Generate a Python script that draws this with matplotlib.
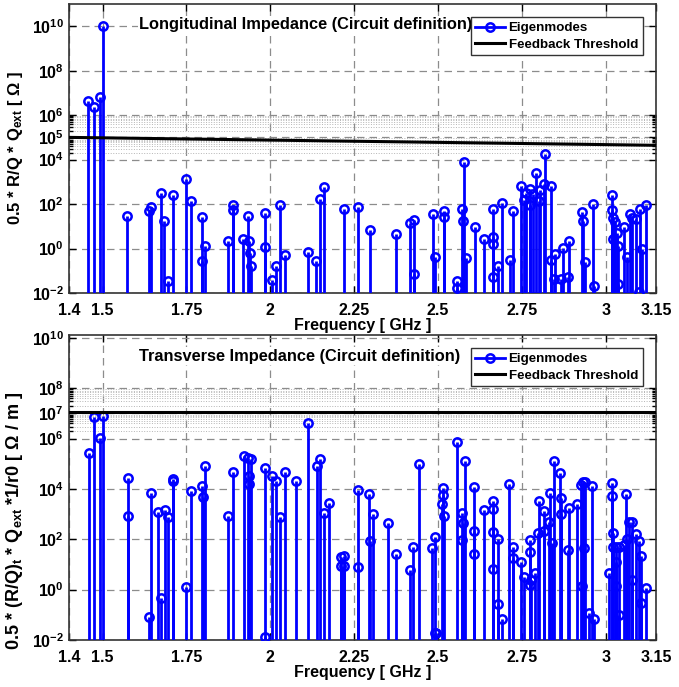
import matplotlib
matplotlib.use('Agg')
import matplotlib.pyplot as plt
from matplotlib.ticker import FixedLocator, NullFormatter
from matplotlib.lines import Line2D

plt.rcParams.update({
    'font.family': 'Liberation Sans',
    'font.weight': 'bold',
    'axes.labelweight': 'bold',
    'font.size': 10,
    'mathtext.fontset': 'custom',
    'mathtext.rm': 'Liberation Sans:bold',
    'mathtext.bf': 'Liberation Sans:bold',
    'mathtext.it': 'Liberation Sans:bold',
    'mathtext.default': 'rm',
})

# ---- longitudinal eigenmodes: frequency [GHz], 0.5*R/Q*Qext [Ohm]
long_freq = [1.457, 1.475, 1.491, 1.500, 1.572, 1.639, 1.645, 1.673, 1.684, 1.694,
             1.709, 1.748, 1.765, 1.797, 1.798, 1.806, 1.873, 1.890, 1.890, 1.919,
             1.934, 1.937, 1.940, 1.944, 1.984, 1.984, 2.004, 2.017, 2.030, 2.044,
             2.113, 2.137, 2.148, 2.159, 2.221, 2.262, 2.297, 2.376, 2.417, 2.428,
             2.428, 2.485, 2.492, 2.517, 2.517, 2.557, 2.558, 2.572, 2.574, 2.579,
             2.583, 2.609, 2.638, 2.663, 2.663, 2.663, 2.663, 2.678, 2.692, 2.715,
             2.725, 2.748, 2.758, 2.763, 2.775, 2.775, 2.783, 2.793, 2.800, 2.805,
             2.817, 2.820, 2.837, 2.837, 2.845, 2.849, 2.867, 2.872, 2.887, 2.892,
             2.929, 2.932, 2.937, 2.961, 2.964, 3.019, 3.019, 3.022, 3.022, 3.028,
             3.034, 3.038, 3.038, 3.056, 3.064, 3.074, 3.079, 3.091, 3.098, 3.101,
             3.108, 3.121]
long_imp = [4.4e6, 2.3e6, 6.6e6, 1.0e10, 28, 51, 72, 310, 17, 0.035,
            260, 1300, 140, 0.28, 26, 1.35, 2.1, 87, 56, 2.7,
            30, 2.1, 0.63, 0.16, 40, 1.2, 0.037, 0.17, 87, 0.49,
            0.72, 0.28, 166, 575, 63, 71, 6.5, 4.3, 14, 19.5,
            0.07, 35, 0.42, 47, 25, 0.033, 0.016, 62, 18, 7800,
            0.37, 9.8, 2.75, 59, 3.3, 1.6, 0.05, 0.16, 107, 0.30,
            47, 620, 155, 310, 490, 95, 280, 2450, 132, 410,
            810, 18600, 660, 0.32, 0.043, 0.54, 0.043, 1.05, 0.052, 2.1,
            44, 17, 0.26, 100, 0.021, 260, 56, 23, 2.7, 15,
            5.0, 1.26, 0.025, 9.8, 0.42, 35, 23, 22, 0.011, 60,
            0.95, 93]
long_thr_freq = [1.4, 3.15]
long_thr = [1.0e5, 4.4e4]

# ---- transverse eigenmodes: frequency [GHz], 0.5*(R/Q)t*Qext/r0 [Ohm/m]
trans_freq = [1.460, 1.476, 1.493, 1.502, 1.575, 1.575, 1.640, 1.645, 1.665, 1.673,
              1.686, 1.696, 1.710, 1.710, 1.749, 1.765, 1.798, 1.799, 1.806, 1.873,
              1.890, 1.921, 1.934, 1.937, 1.937, 1.942, 1.985, 1.985, 2.004, 2.017,
              2.030, 2.044, 2.077, 2.114, 2.138, 2.149, 2.159, 2.176, 2.211, 2.211,
              2.221, 2.221, 2.262, 2.262, 2.293, 2.296, 2.307, 2.352, 2.376, 2.416,
              2.426, 2.444, 2.482, 2.490, 2.492, 2.495, 2.512, 2.514, 2.515, 2.517,
              2.557, 2.571, 2.571, 2.574, 2.580, 2.606, 2.606, 2.607, 2.637, 2.663,
              2.663, 2.663, 2.663, 2.678, 2.678, 2.691, 2.713, 2.723, 2.723, 2.748,
              2.758, 2.773, 2.773, 2.773, 2.777, 2.790, 2.798, 2.802, 2.817, 2.817,
              2.832, 2.835, 2.840, 2.847, 2.865, 2.867, 2.867, 2.887, 2.890, 2.915,
              2.925, 2.929, 2.932, 2.935, 2.939, 2.949, 2.959, 2.964, 3.011, 3.018,
              3.019, 3.021, 3.021, 3.031, 3.031, 3.031, 3.041, 3.041, 3.056, 3.061,
              3.064, 3.071, 3.079, 3.079, 3.089, 3.099, 3.106, 3.106, 3.119]
trans_imp = [2.6e5, 7.1e6, 1.1e6, 7.9e6, 2.8e4, 870, 0.079, 6800, 1260, 0.46,
             1480, 790, 2.5e4, 2.1e4, 1.3, 8500, 1.35e4, 4700, 8.5e4, 870,
             4.6e4, 2.1e5, 1.66e5, 3.4e4, 1.6e4, 1.6e5, 6.6e4, 0.0135, 3.4e4, 2.1e4,
             790, 4.6e4, 2.1e4, 4.1e6, 7.8e4, 1.55e5, 1070, 2700, 20, 8.7,
             22, 8.7, 9100, 8.1, 6200, 89, 1020, 460, 26, 6.0,
             51, 9.8e4, 44, 0.019, 120, 0.019, 2500, 5750, 1.07e4, 850,
             7.6e5, 1150, 98, 450, 1.3e5, 214, 26, 1.23e4, 1480, 3300,
             1580, 200, 6.5, 102, 0.26, 0.066, 1.6e4, 51, 18.6, 12.9,
             3.3, 93, 32, 1.55, 2.45, 4.5, 174, 3200, 1350, 219,
             500, 6800, 69, 1.3e5, 4.2e4, 4500, 1000, 38, 1800, 2500,
             1.45e4, 1.4, 1.86e4, 45, 1.95e4, 0.115, 1.3e4, 0.066, 4.7, 5400,
             1.8e4, 186, 51, 51, 12.3, 1.45, 0.1, 51, 59, 6300,
             100, 500, 500, 2.4, 158, 89, 22, 0.29, 1.2]
trans_thr_freq = [1.4, 3.15]
trans_thr = [1.1e7, 1.1e7]

xticks = [1.4, 1.5, 1.75, 2, 2.25, 2.5, 2.75, 3, 3.15]
xticklabels = ['1.4', '1.5', '1.75', '2', '2.25', '2.5', '2.75', '3', '3.15']


def draw_panel(ax, freq, imp, thr_f, thr_z, title, ylabel, ylabel_size, ylabel_pos,
               yexp, minor_dec, ylim):
    ax.set_yscale('log')
    ax.vlines(freq, 1e-3, imp, color='b', lw=2, zorder=3)
    ax.plot(freq, imp, 'o', color='b', mfc='none', ms=6, mew=1.8, zorder=4)
    ax.plot(thr_f, thr_z, color='k', lw=2.2, zorder=5)

    ax.set_xlim(1.4, 3.15)
    ax.set_ylim(*ylim)
    ax.set_xticks(xticks)
    ax.set_xticklabels(xticklabels)
    ax.yaxis.set_major_locator(FixedLocator([10.0 ** e for e in yexp]))
    ax.set_yticklabels([r'$\mathbf{10^{%d}}$' % e for e in yexp])
    minors = [k * 10.0 ** d for d in minor_dec for k in range(2, 10)]
    ax.yaxis.set_minor_locator(FixedLocator(minors))
    ax.yaxis.set_minor_formatter(NullFormatter())

    ax.grid(True, which='major', color='#8c8c8c', ls=(0, (6, 4)), lw=0.9)
    ax.grid(True, which='minor', axis='y', color='#b5b5b5', ls=':', lw=0.7)
    ax.tick_params(which='both', direction='in', top=True, right=True,
                   labelsize=11.5, width=1)
    ax.tick_params(axis='x', pad=7)
    ax.tick_params(which='major', length=5)
    ax.tick_params(which='minor', length=3)
    for s in ax.spines.values():
        s.set_linewidth(1.2)
        s.set_color('#333333')

    ax.set_xlabel('Frequency [ GHz ]', fontsize=11.5, labelpad=0)
    ax.set_ylabel(ylabel, fontsize=ylabel_size)
    ax.yaxis.set_label_coords(-0.075, ylabel_pos)
    ax.text(0.12, 0.955, title, transform=ax.transAxes, fontsize=11.8,
            va='top', ha='left', zorder=6,
            bbox=dict(fc='white', ec='none', pad=1))

    handles = [Line2D([], [], color='b', marker='o', mfc='none', ms=6, mew=1.8, lw=2),
               Line2D([], [], color='k', lw=2.2)]
    leg = ax.legend(handles, ['Eigenmodes', 'Feedback Threshold'], loc='upper right',
                    fontsize=9.6, fancybox=False, framealpha=1, edgecolor='#333333',
                    borderaxespad=1.0, handlelength=2.2, borderpad=0.35,
                    labelspacing=0.3, handletextpad=0.3)
    leg.get_frame().set_linewidth(1.0)
    leg.set_zorder(7)


fig = plt.figure(figsize=(6.79, 6.87), dpi=100)
ax1 = fig.add_axes([0.1016, 0.5735, 0.8645, 0.4207])
ax2 = fig.add_axes([0.1016, 0.0684, 0.8645, 0.4440])

draw_panel(ax1, long_freq, long_imp, long_thr_freq, long_thr,
           'Longitudinal Impedance (Circuit definition)',
           r'0.5 * R/Q * Q$_{\mathbf{ext}}$ [ Ω ]', 12, 0.5,
           [-2, 0, 2, 4, 5, 6, 8, 10], [4, 5], (1e-2, 1e11))
draw_panel(ax2, trans_freq, trans_imp, trans_thr_freq, trans_thr,
           'Transverse Impedance (Circuit definition)',
           r'0.5 * (R/Q)$_{\mathbf{t}}$ * Q$_{\mathbf{ext}}$ *1/r0 [ Ω / m ]', 13, 0.39,
           [-2, 0, 2, 4, 6, 7, 8, 10], [6, 7], (1e-2, 1.3e10))

fig.savefig('out.png', dpi=100)
